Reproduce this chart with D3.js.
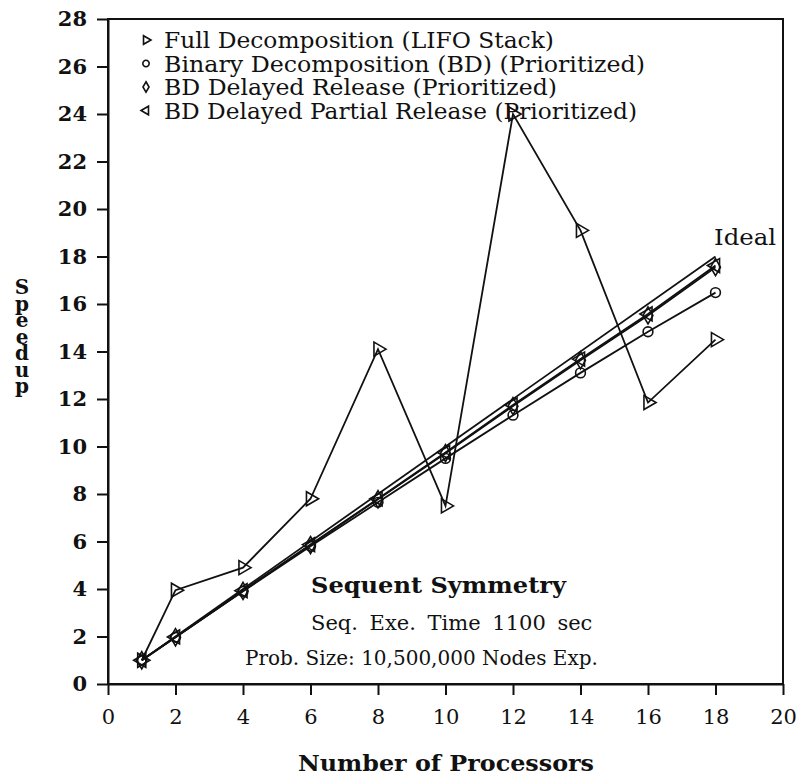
<!DOCTYPE html>
<html>
<head>
<meta charset="utf-8">
<script src="https://cdn.jsdelivr.net/npm/d3@7"></script>
<style>
  body { margin: 0; background: #fff; }
  text { font-family: "DejaVu Serif", serif; fill: #111; }
  .ytitle { writing-mode: vertical-rl; text-orientation: upright; }
</style>
</head>
<body>
<div class="canvas"></div>
<script>
// Processor counts and measured speedups
const procs = [1, 2, 4, 6, 8, 10, 12, 14, 16, 18];
const fullDecomp = [1, 3.95, 4.9, 7.8, 14.1, 7.5, 24, 19.1, 11.85, 14.5];
const binaryDecomp = [1, 1.97, 3.9, 5.8, 7.65, 9.5, 11.32, 13.1, 14.83, 16.48];
const delayedRelease = [1, 1.97, 3.92, 5.85, 7.78, 9.72, 11.7, 13.63, 15.52, 17.55];
const partialRelease = [1, 1.98, 3.93, 5.87, 7.8, 9.75, 11.75, 13.68, 15.58, 17.62];
const ideal = [[1, 1], [18, 18]];

const legendLabels = [
  'Full Decomposition (LIFO Stack)',
  'Binary Decomposition (BD) (Prioritized)',
  'BD Delayed Release (Prioritized)',
  'BD Delayed Partial Release (Prioritized)'
];
const xTicks = d3.range(0, 21, 2);
const yTicks = d3.range(0, 29, 2);
const notes = ['Sequent Symmetry', 'Seq. Exe. Time 1100 sec', 'Prob. Size: 10,500,000 Nodes Exp.'];

const dims = { width: 799, height: 776 };
const plot = { left: 108, right: 783, top: 19, bottom: 684 };

const svg = d3.select('.canvas')
  .append('svg')
  .attr('width', dims.width)
  .attr('height', dims.height);

const x = d3.scaleLinear().domain([0, 20]).range([plot.left, plot.right]);
const y = d3.scaleLinear().domain([0, 28]).range([plot.bottom, plot.top]);

// frame
svg.append('rect')
  .attr('x', plot.left).attr('y', plot.top)
  .attr('width', plot.right - plot.left).attr('height', plot.bottom - plot.top)
  .attr('fill', 'none').attr('stroke', '#111').attr('stroke-width', 2);

// axes (ticks outside)
const xAxis = svg.append('g')
  .attr('transform', `translate(0, ${plot.bottom})`)
  .call(d3.axisBottom(x).tickValues(xTicks).tickSize(11).tickPadding(14).tickSizeOuter(0));
const yAxis = svg.append('g')
  .attr('transform', `translate(${plot.left}, 0)`)
  .call(d3.axisLeft(y).tickValues(yTicks).tickSize(11).tickPadding(10).tickSizeOuter(0));

[xAxis, yAxis].forEach(ax => {
  ax.select('.domain').attr('stroke', '#111').attr('stroke-width', 2);
  ax.selectAll('line').attr('stroke', '#111').attr('stroke-width', 2);
  ax.selectAll('text').attr('font-size', 21).attr('fill', '#111')
    .style('font-family', '"DejaVu Serif", serif');
});
yAxis.selectAll('text').attr('font-weight', 'bold');

// series definitions
const series = [
  { name: legendLabels[0], values: fullDecomp, symbol: d3.symbolTriangle, rotate: 90, len: 390 },
  { name: legendLabels[1], values: binaryDecomp, symbol: d3.symbolCircle, rotate: 0, len: 481 },
  { name: legendLabels[2], values: delayedRelease, symbol: d3.symbolDiamond, rotate: 0, len: 393 },
  { name: legendLabels[3], values: partialRelease, symbol: d3.symbolTriangle, rotate: -90, len: 473 }
];

const line = d3.line().x(d => x(d[0])).y(d => y(d[1]));

// ideal line
svg.append('path')
  .attr('d', line(ideal))
  .attr('fill', 'none').attr('stroke', '#111').attr('stroke-width', 1.8);

svg.append('text')
  .attr('x', 714).attr('y', 245)
  .attr('font-size', 23)
  .attr('textLength', 62).attr('lengthAdjust', 'spacingAndGlyphs')
  .text('Ideal');

series.forEach(s => {
  const pts = procs.map((p, i) => [p, s.values[i]]);
  svg.append('path')
    .attr('d', line(pts))
    .attr('fill', 'none').attr('stroke', '#111').attr('stroke-width', 1.8);

  svg.append('g').selectAll('path')
    .data(pts)
    .enter()
    .append('path')
    .attr('d', d3.symbol().type(s.symbol).size(s.symbol === d3.symbolCircle ? 75 : 85))
    .attr('transform', d => `translate(${x(d[0])}, ${y(d[1])}) rotate(${s.rotate})`)
    .attr('fill', 'none').attr('stroke', '#111').attr('stroke-width', 1.6);
});

// legend
const legend = svg.append('g');
series.forEach((s, i) => {
  const ly = 40 + i * 23.5;
  legend.append('path')
    .attr('d', d3.symbol().type(s.symbol).size(32))
    .attr('transform', `translate(146, ${ly}) rotate(${s.rotate})`)
    .attr('fill', 'none').attr('stroke', '#111').attr('stroke-width', 1.6);
  legend.append('text')
    .attr('x', 164).attr('y', ly + 8)
    .attr('font-size', 22)
    .attr('textLength', s.len).attr('lengthAdjust', 'spacingAndGlyphs')
    .text(s.name);
});

// annotation block
svg.append('text').attr('x', 311).attr('y', 593)
  .attr('font-size', 22).attr('font-weight', 'bold')
  .attr('textLength', 255).attr('lengthAdjust', 'spacingAndGlyphs')
  .text(notes[0]);
svg.append('text').attr('x', 311).attr('y', 630)
  .attr('font-size', 21)
  .attr('word-spacing', 5)
  .text(notes[1]);
svg.append('text').attr('x', 245).attr('y', 665)
  .attr('font-size', 20)
  .text(notes[2]);

// axis titles
svg.append('text')
  .attr('x', 446).attr('y', 771)
  .attr('text-anchor', 'middle')
  .attr('font-size', 23).attr('font-weight', 'bold')
  .attr('textLength', 296).attr('lengthAdjust', 'spacingAndGlyphs')
  .text('Number of Processors');

// stacked vertical title, one text element
svg.append('text')
  .attr('class', 'ytitle')
  .attr('x', 22).attr('y', 275)
  .attr('font-size', 20).attr('font-weight', 'bold')
  .attr('letter-spacing', -7.5)
  .text('Speedup');
</script>
</body>
</html>
